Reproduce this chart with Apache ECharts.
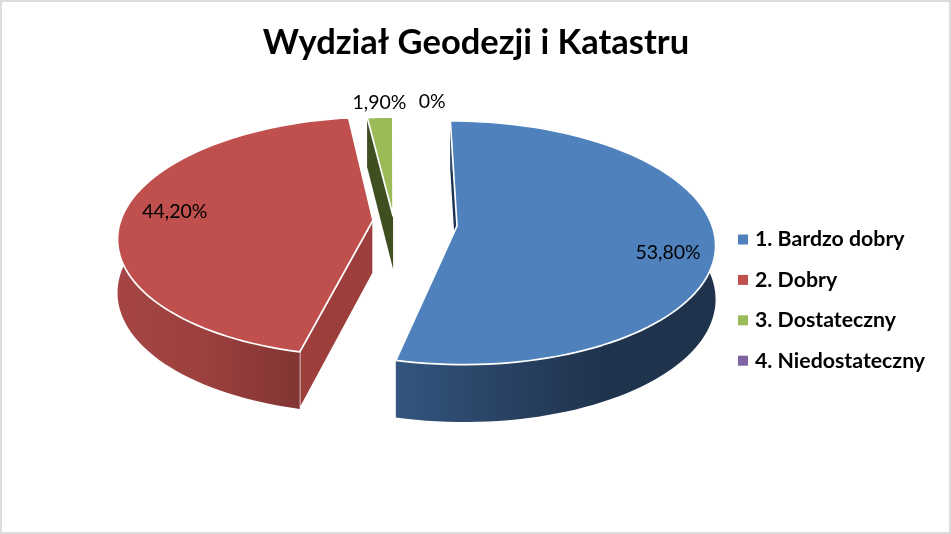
<!DOCTYPE html>
<html><head><meta charset="utf-8">
<style>html,body{margin:0;padding:0;background:#fff}#c{width:951px;height:534px}</style>
<script src="https://cdn.jsdelivr.net/npm/echarts@6/dist/echarts.min.js"></script>
</head><body><div id="c"></div>
<script>
const chartTitle = 'Wydział Geodezji i Katastru';
const categories = ['1. Bardzo dobry', '2. Dobry', '3. Dostateczny', '4. Niedostateczny'];
const values = [53.8, 44.2, 1.9, 0];
const valueLabels = ['53,80%', '44,20%', '1,90%', '0%'];
const colors = ['#4f81bd', '#c0504d', '#9bbb59', '#8064a2'];

const FONT = 'Lato, Carlito, "Open Sans", sans-serif';
const view = {cx: 415, cy: 222, rx: 256.6, ry: 119.6, p: 0.139, h: 53, start: -0.4};
const looks = [
  {u0: 0.163, v0: 0.033, s: 0.99, k: 0.80, ldx: 3, ldy: 16, cut: '#1b3350', cutLine: 'none',
   wall: [[0, '#33557f'], [0.3, '#2a4466'], [0.65, '#1f334d'], [1, '#1f334d']], wx: [397, 716]},
  {u0: -0.164, v0: -0.015, s: 0.985, k: 0.78, ldx: 0, ldy: -4, cut: '#9c3f3c', cutLine: '#fff',
   wall: [[0, '#a54543'], [0.5, '#9a403e'], [1, '#823533']], wx: [118, 300]},
  {u0: -0.086, v0: -0.05, s: 0.95, k: 1.17, ldx: 2, ldy: 5, cut: '#3f4f20', cutLine: 'none',
   wall: [[0, '#3f4f20'], [1, '#3f4f20']], wx: [368, 393]},
  {u0: 0.02, v0: -0.05, s: 1, k: 1.1, ldx: 16, ldy: -2, cut: '#4c3b62', cutLine: 'none',
   wall: [[0, '#4c3b62'], [1, '#4c3b62']], wx: [420, 440]}
];

const total = 100;
const angles = [];
values.reduce((acc, v) => { angles.push([acc, acc + v / total * 360]); return acc + v / total * 360; }, view.start);

function project(look, radius, deg, z) {
  const t = deg * Math.PI / 180;
  const U = look.u0 + radius * Math.sin(t);
  const V = look.v0 - radius * Math.cos(t);
  const w = 1 / (1 - view.p * V);
  return [view.cx + view.rx * U * w, view.cy + view.ry * V * w + (z || 0) * (0.5 + 0.5 * w)];
}
function arc(look, a, b, z) {
  const pts = [];
  const n = Math.max(1, Math.ceil((b - a) / 2));
  for (let i = 0; i <= n; i++) pts.push(project(look, look.s, a + (b - a) * i / n, z));
  return pts;
}
function renderSlice(i) {
  return function (params, api) {
    const look = looks[i], [a, b] = angles[i], kids = [];
    const mid = (a + b) / 2;
    const lp = project(look, look.k, mid, 0);
    const label = {type: 'text', z2: 20, silent: true,
      style: {text: valueLabels[i], x: lp[0] + look.ldx, y: lp[1] + look.ldy, fill: '#000',
        font: '19.5px ' + FONT, align: 'center', verticalAlign: 'middle'}};
    if (api.value(0) <= 0) return {type: 'group', children: [label]};
    const h = view.h;
    const c0 = project(look, 0, 0, 0), c1 = project(look, 0, 0, h);
    const topArc = arc(look, a, b, 0), lowArc = arc(look, a, b, h);
    kids.push({type: 'polygon', z2: 1,
      shape: {points: [c0, project(look, look.s, a, 0), project(look, look.s, a, h), c1]},
      style: {fill: look.cut, stroke: look.cutLine, lineWidth: 1.4}});
    kids.push({type: 'polygon', z2: 2, shape: {points: topArc.concat(lowArc.slice().reverse())},
      style: {fill: new echarts.graphic.LinearGradient(look.wx[0], 0, look.wx[1], 0,
        look.wall.map(s => ({offset: s[0], color: s[1]})), true)}});
    kids.push({type: 'polygon', z2: 3, shape: {points: [c0].concat(topArc)},
      style: {fill: colors[i], stroke: '#fff', lineWidth: 1.7, lineJoin: 'round'}});
    kids.push(label);
    return {type: 'group', children: kids};
  };
}

const chart = echarts.init(document.getElementById('c'), null, {renderer: 'canvas'});
chart.setOption({
  backgroundColor: '#fff',
  animation: false,
  title: {text: chartTitle, left: 471, top: 20, textAlign: 'center',
    textStyle: {fontFamily: FONT, fontWeight: 'bold', fontSize: 34.5, color: '#000'}},
  legend: {orient: 'vertical', left: 733, top: 224, itemWidth: 10, itemHeight: 10, itemGap: 19.4,
    icon: 'rect', selectedMode: false, data: categories,
    textStyle: {fontFamily: FONT, fontWeight: 'bold', fontSize: 21.3, color: '#000', padding: [0, 0, 0, 2]}},
  color: colors,
  graphic: [{type: 'rect', silent: true, z: -1,
    shape: {x: 1, y: 1, width: 949, height: 532},
    style: {fill: 'none', stroke: '#dcdcdc', lineWidth: 2}}],
  series: categories.map((name, i) => ({
    type: 'custom', name, coordinateSystem: 'none', silent: true, z: 2 + i,
    itemStyle: {color: colors[i]},
    renderItem: renderSlice(i), data: [[values[i]]]
  }))
});
</script></body></html>
